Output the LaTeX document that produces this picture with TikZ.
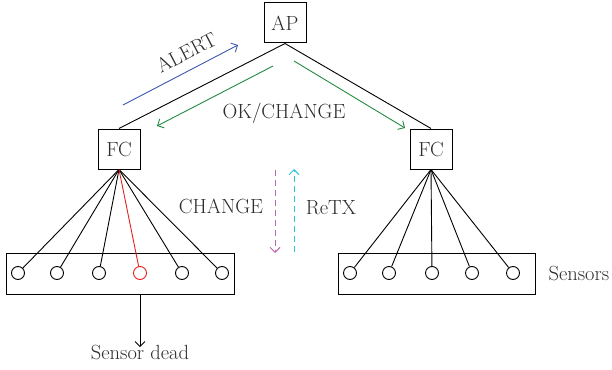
\documentclass[tikz,border=0pt]{standalone}
\usepackage{fontspec}
\usepackage{tikz}
\usetikzlibrary{arrows.meta}
\usetikzlibrary{calc}

\definecolor{alertblue}{RGB}{58,88,180}
\definecolor{okgreen}{RGB}{34,139,64}
\definecolor{chgpink}{RGB}{190,100,180}
\definecolor{retxcyan}{RGB}{40,200,210}
\definecolor{deadred}{RGB}{232,30,30}
\definecolor{inkgray}{RGB}{45,45,45}

\begin{document}
\begin{tikzpicture}[x=1pt, y=-1pt, >={Straight Barb[length=5pt, width=10pt]},
    font=\fontsize{20.5}{24}\selectfont, text=inkgray,
    box/.style={draw, line width=1pt, minimum width=42pt, minimum height=40pt, inner sep=0pt},
    tray/.style={draw, line width=1pt, minimum height=41pt, inner sep=0pt},
    sensor/.style={draw, circle, line width=0.9pt, minimum size=13pt, inner sep=0pt},
    link/.style={line width=0.9pt}]

        % Fix the page
        \useasboundingbox (0,0) rectangle (612,369);

        % Draw AP and the two FCs
        \node[box] (ap) at (285,23) {AP};
        \node[box] (fcl) at (119,149) {FC};
        \node[box] (fcr) at (431,149) {FC};

        % Sensor groups
        \node[tray, minimum width=228pt] (lbox) at (120,273.5) {};
        \node[tray, minimum width=197pt] (rbox) at (436.5,273.5) {};
        \foreach \i/\x in {1/18, 2/57, 3/99, 5/182, 6/222}
            \node[sensor] (l\i) at (\x,273) {};
        \node[sensor, draw=deadred] (l4) at (140,273) {};
        \foreach \i/\x in {1/350, 2/389, 3/432, 4/472, 5/513}
            \node[sensor] (r\i) at (\x,273) {};

        % Links
        \draw[link] (ap.south) -- (fcl.north);
        \draw[link] (ap.south) -- (fcr.north);
        \foreach \i in {1,2,3,5,6}
            \draw[link] (fcl.south) -- (l\i);
        \draw[link, deadred] (fcl.south) -- (l4);
        \foreach \i in {1,...,5}
            \draw[link] (fcr.south) -- (r\i);

        % Messages
        \coordinate (alertA) at (123,105);
        \coordinate (alertB) at (238,45);
        \draw[->, link, alertblue] (alertA) -- node[sloped, above=6pt, pos=0.62, text=inkgray] {ALERT} (alertB);

        \coordinate (okA) at (273,66);
        \coordinate (okB) at (157,126);
        \coordinate (okC) at (294,61);
        \coordinate (okD) at (405,128);
        \draw[->, link, okgreen] (okA) -- (okB);
        \draw[->, link, okgreen] (okC) -- (okD);
        \node (ok) at (284,113) {OK/CHANGE};

        \coordinate (chgA) at (275,170);
        \coordinate (chgB) at (275,253);
        \coordinate (retxA) at (294,252);
        \coordinate (retxB) at (294,169);
        \draw[->, link, chgpink, dash pattern=on 6pt off 4pt] (chgA) -- (chgB);
        \draw[->, link, retxcyan, dash pattern=on 6pt off 4pt] (retxA) -- (retxB);
        \node (chg) at (221,206) {CHANGE};
        \node (retx) at (331,208) {ReTX};

        % Labels under and beside the groups
        \node[anchor=west] (sens) at (545,273) {Sensors};
        \node (dead) at (140,352) {Sensor dead};
        \draw[->, link] (l4 |- lbox.south) -- ($(dead.north)+(0,6)$);

\end{tikzpicture}
\end{document}
